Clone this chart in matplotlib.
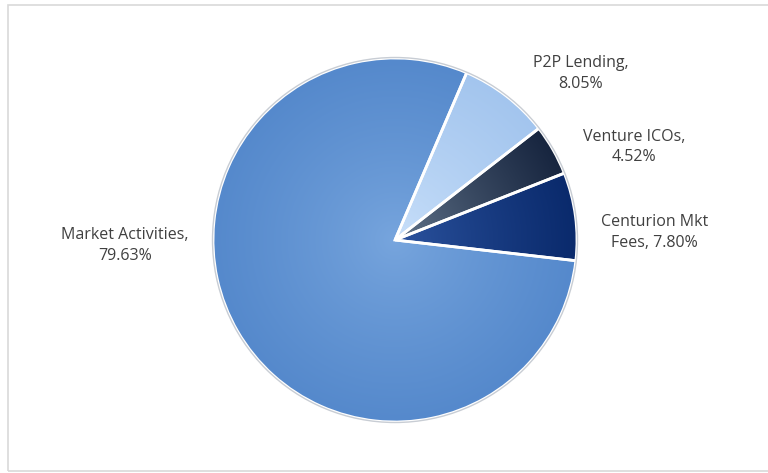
import numpy as np
import matplotlib.pyplot as plt
from matplotlib.patches import Rectangle, Circle
from matplotlib.colors import to_rgb

# Slice data, clockwise from the top-right
labels = ['P2P Lending', 'Venture ICOs', 'Centurion Mkt Fees', 'Market Activities']
shares = [8.05, 4.52, 7.80, 79.63]
texts = ['P2P Lending,\n8.05%', 'Venture ICOs,\n4.52%', 'Centurion Mkt\nFees, 7.80%',
         'Market Activities,\n79.63%']
colors = ['#A3C5EE', '#17253F', '#0A2A6C', '#5589CC']
light = ['#C9E0FA', '#66798F', '#2E56A2', '#78A6DE']
# label offsets from the pie centre, in radius units
label_off = [(1.022, 0.915), (1.313, 0.511), (1.426, 0.041), (-1.485, -0.03)]

fig = plt.figure(figsize=(7.68, 4.73), dpi=100)
ax = fig.add_axes([0, 0, 1, 1])

cx, cy, r = 395, 233, 182
start = 66.8
wedges, _ = ax.pie(shares, colors=colors, startangle=start, counterclock=False,
                   center=(cx, cy), radius=r, frame=True,
                   wedgeprops=dict(edgecolor='white', linewidth=2))
ax.set_xlim(0, 768)
ax.set_ylim(0, 473)
ax.set_aspect('equal')
ax.axis('off')

# chart frame
ax.add_patch(Rectangle((8, 2), 770, 466, fill=False, edgecolor='#D9D9D9', linewidth=1.2))

# gradient shading: a clipped image per wedge, lighter near the centre
yy, xx = np.mgrid[cy - r:cy + r:300j, cx - r:cx + r:300j]
dist = np.hypot(xx - cx, yy - cy) / r
for w, c0, c1 in zip(wedges, light, colors):
    a, b = np.array(to_rgb(c0)), np.array(to_rgb(c1))
    t = np.clip(dist ** 0.8, 0, 1)[..., None]
    img = a * (1 - t) + b * t
    im = ax.imshow(img, extent=(cx - r, cx + r, cy - r, cy + r), origin='lower',
                   zorder=w.get_zorder() + 0.1)
    im.set_clip_path(w)
    w.set_zorder(w.get_zorder() + 0.2)
    w.set_facecolor('none')

# thin grey rim
ax.add_patch(Circle((cx, cy), r + 0.5, fill=False, edgecolor='#C8CDD4', linewidth=1, zorder=5))

for txt, (ox, oy) in zip(texts, label_off):
    ax.text(cx + ox * r, cy + oy * r, txt, ha='center', va='center', fontsize=11.5,
            color='#404040', family='Open Sans', linespacing=1.4)

fig.savefig('out.png', dpi=100)
